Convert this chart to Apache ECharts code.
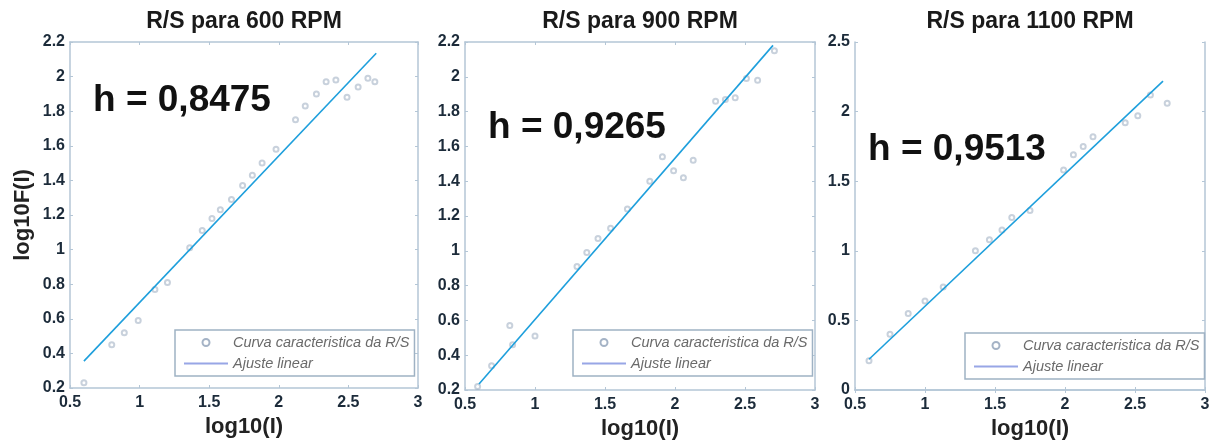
<!DOCTYPE html>
<html>
<head>
<meta charset="utf-8">
<title>R/S</title>
<script src="https://cdn.jsdelivr.net/npm/echarts@6/dist/echarts.min.js"></script>
<style>
  html, body { margin: 0; padding: 0; background: #fff; }
  #chart { width: 1214px; height: 446px; }
</style>
</head>
<body>
<div id="chart"></div>
<script>
// Panel titles and Hurst exponents
const panelTitles = ['R/S para 600 RPM', 'R/S para 900 RPM', 'R/S para 1100 RPM'];
const hurst = [0.8475, 0.9265, 0.9513];
const hLabels = ['h = 0,8475', 'h = 0,9265', 'h = 0,9513'];

// R/S characteristic curve, 600 RPM
const rs600X = [0.60, 0.80, 0.89, 0.99, 1.11, 1.20, 1.36, 1.45, 1.52, 1.58, 1.66, 1.74, 1.81, 1.88, 1.98, 2.12, 2.19, 2.27, 2.34, 2.41, 2.49, 2.57, 2.64, 2.69];
const rs600Y = [0.23, 0.45, 0.52, 0.59, 0.77, 0.81, 1.01, 1.11, 1.18, 1.23, 1.29, 1.37, 1.43, 1.50, 1.58, 1.75, 1.83, 1.90, 1.97, 1.98, 1.88, 1.94, 1.99, 1.97];

// R/S characteristic curve, 900 RPM
const rs900X = [0.59, 0.69, 0.82, 0.84, 1.00, 1.30, 1.37, 1.45, 1.54, 1.66, 1.82, 1.91, 1.99, 2.06, 2.13, 2.29, 2.36, 2.43, 2.51, 2.59, 2.71];
const rs900Y = [0.22, 0.34, 0.57, 0.46, 0.51, 0.91, 0.99, 1.07, 1.13, 1.24, 1.40, 1.54, 1.46, 1.42, 1.52, 1.86, 1.87, 1.88, 1.99, 1.98, 2.15];

// R/S characteristic curve, 1100 RPM
const rs1100X = [0.60, 0.75, 0.88, 1.00, 1.13, 1.36, 1.46, 1.55, 1.62, 1.75, 1.99, 2.06, 2.13, 2.20, 2.43, 2.52, 2.61, 2.73];
const rs1100Y = [0.21, 0.40, 0.55, 0.64, 0.74, 1.00, 1.08, 1.15, 1.24, 1.29, 1.58, 1.69, 1.75, 1.82, 1.92, 1.97, 2.12, 2.06];

// Linear fit: slope = h, intercept per panel, drawn over the fitted range
const fitIntercept = [-0.153, -0.321, -0.350];
const fitRange = [0.6, 2.7];

// Axis ranges
const xRange = { min: 0.5, max: 3, interval: 0.5 };
const yRanges = [
  { min: 0.2, max: 2.2, interval: 0.2 },
  { min: 0.2, max: 2.2, interval: 0.2 },
  { min: 0, max: 2.5, interval: 0.5 }
];

const scatterName = 'Curva caracteristica da R/S';
const fitName = 'Ajuste linear';

const rsX = [rs600X, rs900X, rs1100X];
const rsY = [rs600Y, rs900Y, rs1100Y];

// Layout of the three plot boxes
const grids = [
  { left: 70, right: 796, top: 42, bottom: 58 },
  { left: 465, right: 399, top: 42, bottom: 56 },
  { left: 855, right: 9, top: 42, bottom: 56 }
];
const titleCenters = [244, 640, 1030];
const hPos = [[93, 101], [488, 128], [868, 150]];
const legendPos = [[175, 330], [573, 330], [965, 333]];

const FONT = '"Liberation Sans", Arial, sans-serif';
const BOX = '#b4c6d6';
const TICK_TEXT = '#1c2b3a';
const MARKER = 'rgba(140,158,182,0.6)';

const xAxes = [], yAxes = [], series = [], graphics = [], legends = [];

for (let i = 0; i < 3; i++) {
  const yr = yRanges[i];
  xAxes.push({
    type: 'value', gridIndex: i, position: 'bottom',
    min: xRange.min, max: xRange.max, interval: xRange.interval,
    name: 'log10(I)', nameLocation: 'middle', nameGap: 28,
    nameTextStyle: { fontFamily: FONT, fontWeight: 'bold', fontSize: 22, color: '#222' },
    axisLine: { show: true, lineStyle: { color: BOX, width: 1.5 } },
    axisTick: { show: true, inside: true, length: 3, lineStyle: { color: BOX } },
    axisLabel: { fontFamily: FONT, fontWeight: 'bold', fontSize: 16, color: TICK_TEXT, margin: 7 },
    splitLine: { show: false }
  });
  yAxes.push({
    type: 'value', gridIndex: i, position: 'left',
    min: yr.min, max: yr.max, interval: yr.interval,
    name: i === 0 ? 'log10F(I)' : '', nameLocation: 'middle', nameGap: 36,
    nameTextStyle: { fontFamily: FONT, fontWeight: 'bold', fontSize: 22, color: '#222' },
    axisLine: { show: true, lineStyle: { color: BOX, width: 1.5 } },
    axisTick: { show: true, inside: true, length: 3, lineStyle: { color: BOX } },
    axisLabel: { fontFamily: FONT, fontWeight: 'bold', fontSize: 16, color: TICK_TEXT, margin: 5 },
    splitLine: { show: false }
  });
}
// Mirror axes on top and right to close the box with inner ticks
for (let i = 0; i < 3; i++) {
  const yr = yRanges[i];
  xAxes.push({
    type: 'value', gridIndex: i, position: 'top',
    min: xRange.min, max: xRange.max, interval: xRange.interval,
    axisLine: { show: true, lineStyle: { color: BOX, width: 1.5 } },
    axisTick: { show: true, inside: true, length: 3, lineStyle: { color: BOX } },
    axisLabel: { show: false }, splitLine: { show: false }
  });
  yAxes.push({
    type: 'value', gridIndex: i, position: 'right',
    min: yr.min, max: yr.max, interval: yr.interval,
    axisLine: { show: true, lineStyle: { color: BOX, width: 1.5 } },
    axisTick: { show: true, inside: true, length: 3, lineStyle: { color: BOX } },
    axisLabel: { show: false }, splitLine: { show: false }
  });
}

for (let i = 0; i < 3; i++) {
  series.push({
    name: scatterName, type: 'scatter', xAxisIndex: i, yAxisIndex: i,
    symbol: 'emptyCircle', symbolSize: 5,
    itemStyle: { color: MARKER, borderWidth: 1 },
    data: rsX[i].map((x, k) => [x, rsY[i][k]]),
    z: 2
  });
  series.push({
    name: fitName, type: 'line', xAxisIndex: i, yAxisIndex: i,
    symbol: 'none', silent: true,
    lineStyle: { color: '#1e9fdc', width: 1.6 },
    itemStyle: { color: '#1e9fdc' },
    data: fitRange.map(x => [x, hurst[i] * x + fitIntercept[i]]),
    z: 3
  });

  graphics.push({
    type: 'text', x: titleCenters[i], y: 22,
    style: { text: panelTitles[i], fill: '#1a1a1a', font: 'bold 23px ' + FONT, textAlign: 'center', textVerticalAlign: 'middle' }
  });
  graphics.push({
    type: 'text', x: hPos[i][0], y: hPos[i][1],
    style: { text: hLabels[i], fill: '#111', font: 'bold 37px ' + FONT, textAlign: 'left', textVerticalAlign: 'middle' }
  });

  legends.push({
    left: legendPos[i][0], top: legendPos[i][1],
    orient: 'vertical',
    padding: [5, 5, 5, 8], itemGap: 6,
    itemWidth: 44, itemHeight: 7,
    borderColor: '#9fb2c4', borderWidth: 1.5, backgroundColor: '#fff',
    selectedMode: false,
    textStyle: { fontFamily: FONT, fontSize: 14.5, fontStyle: 'italic', color: '#6a6a6a' },
    data: [
      { name: scatterName, icon: 'emptyCircle', itemStyle: { color: '#8fa0b8', borderColor: '#8fa0b8', borderWidth: 1.2 } },
      { name: fitName, lineStyle: { color: '#98a6e6', width: 2 }, itemStyle: { opacity: 0 } }
    ]
  });
}

const chart = echarts.init(document.getElementById('chart'), null, { renderer: 'canvas' });
chart.setOption({
  backgroundColor: '#ffffff',
  animation: false,
  grid: grids.map(g => Object.assign({ show: false, containLabel: false }, g)),
  xAxis: xAxes,
  yAxis: yAxes,
  legend: legends,
  series: series,
  graphic: graphics
});
</script>
</body>
</html>
